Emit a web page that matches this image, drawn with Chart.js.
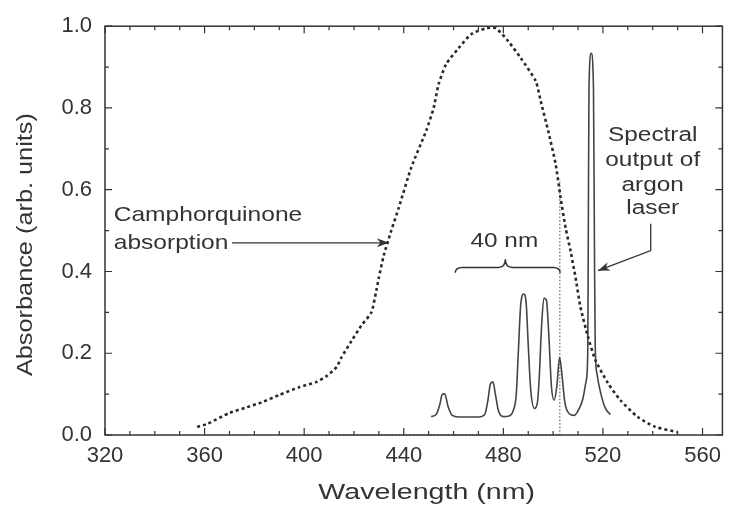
<!DOCTYPE html>
<html lang="en">
<head>
<meta charset="UTF-8">
<title>Camphorquinone absorption and argon laser output</title>
<script src="https://cdn.jsdelivr.net/npm/chart.js"></script>
<style>
  html, body { margin: 0; padding: 0; background: #fff; }
</style>
</head>
<body>
<canvas id="chart" width="729" height="507"></canvas>
<script>
// camphorquinone absorption curve (dotted)
const cqWavelength = [357, 361, 370, 377, 383, 390, 398, 405, 409, 413, 415, 419, 423, 427, 429, 430, 432, 435, 438, 443, 449, 452, 454, 457, 462, 467, 473, 477, 482, 487, 493, 495, 498, 501, 503, 505, 507, 509, 511, 514, 517, 522, 527, 534, 541, 550];
const cqAbsorbance = [0.02, 0.027, 0.054, 0.068, 0.08, 0.098, 0.117, 0.13, 0.144, 0.166, 0.19, 0.23, 0.268, 0.30, 0.354, 0.385, 0.44, 0.50, 0.556, 0.654, 0.744, 0.80, 0.858, 0.907, 0.946, 0.98, 0.995, 0.995, 0.963, 0.922, 0.866, 0.817, 0.744, 0.663, 0.58, 0.507, 0.45, 0.385, 0.312, 0.24, 0.183, 0.127, 0.085, 0.044, 0.02, 0.007];

// argon laser spectral output (solid)
const laserWavelength = [451, 453, 454.5, 455.5, 456.5, 457.8, 459.5, 462, 470, 472.5, 473.8, 474.8, 475.8, 476.8, 478, 480, 482, 484, 485.2, 486, 487, 488.2, 489.2, 490, 491, 492.5, 493.7, 494.5, 495.3, 496.3, 497.3, 498.3, 499.3, 500.4, 501.5, 502.6, 503.5, 504.7, 506.5, 508.5, 510.5, 512, 513.2, 513.9, 514.1, 514.4, 515.3, 516.2, 516.6, 516.9, 517.6, 519.2, 521, 523];
const laserOutput = [0.045, 0.05, 0.075, 0.1, 0.1, 0.07, 0.048, 0.044, 0.044, 0.05, 0.085, 0.125, 0.13, 0.1, 0.06, 0.045, 0.046, 0.06, 0.1, 0.2, 0.32, 0.345, 0.32, 0.22, 0.11, 0.065, 0.08, 0.15, 0.26, 0.335, 0.33, 0.24, 0.12, 0.085, 0.12, 0.19, 0.15, 0.08, 0.052, 0.048, 0.065, 0.09, 0.13, 0.2, 0.45, 0.85, 0.934, 0.85, 0.45, 0.22, 0.15, 0.1, 0.065, 0.05];

// dotted marker of the 40 nm band edge
const bandWavelength = [400, 502.7, 502.7];
const bandValue = [0, 0, 0.625];

const xTicks = [320, 360, 400, 440, 480, 520, 560];
const yTicks = [0, 0.2, 0.4, 0.6, 0.8, 1.0];
const xMin = 320, xMax = 568, xMinor = 10;

const ink = '#333';
const FONT = '"Liberation Sans", Arial, sans-serif';

function pts(xs, ys) { return xs.map((v, i) => ({ x: v, y: ys[i] })); }

function stretchText(ctx, str, px, py, sx, align) {
    ctx.save();
    ctx.translate(px, py);
    ctx.scale(sx, 1);
    ctx.textAlign = align;
    ctx.textBaseline = 'middle';
    ctx.fillText(str, 0, 0);
    ctx.restore();
}

function arrow(ctx, p) {
    ctx.beginPath();
    ctx.moveTo(p[0][0], p[0][1]);
    for (let i = 1; i < p.length; i++) ctx.lineTo(p[i][0], p[i][1]);
    ctx.stroke();
    const [x1, y1] = p[p.length - 1], [x0, y0] = p[p.length - 2];
    const a = Math.atan2(y1 - y0, x1 - x0), c = Math.cos(a), s = Math.sin(a);
    const L = 12, W = 4.5;
    ctx.beginPath();
    ctx.moveTo(x1, y1);
    ctx.lineTo(x1 - L * c + W * s, y1 - L * s - W * c);
    ctx.lineTo(x1 - 0.7 * L * c, y1 - 0.7 * L * s);
    ctx.lineTo(x1 - L * c - W * s, y1 - L * s + W * c);
    ctx.closePath();
    ctx.fill();
}

const decor = {
    id: 'decor',
    afterDatasetsDraw(chart) {
        const { ctx, chartArea: a, scales: { x, y } } = chart;
        const X = v => x.getPixelForValue(v), Y = v => y.getPixelForValue(v);
        ctx.save();
        ctx.strokeStyle = ink;
        ctx.fillStyle = ink;

        // frame
        ctx.lineWidth = 1.5;
        ctx.strokeRect(a.left, a.top, a.right - a.left, a.bottom - a.top);

        // inward ticks
        ctx.lineWidth = 1.2;
        ctx.beginPath();
        for (let v = xMin; v <= xMax; v += xMinor) {
            const px = X(v), len = xTicks.includes(v) ? 7 : 4;
            ctx.moveTo(px, a.bottom); ctx.lineTo(px, a.bottom - len);
            ctx.moveTo(px, a.top); ctx.lineTo(px, a.top + len);
        }
        for (let i = 0; i <= 10; i++) {
            const py = Y(i / 10), len = i % 2 === 0 ? 7 : 4;
            ctx.moveTo(a.left, py); ctx.lineTo(a.left + len, py);
            ctx.moveTo(a.right, py); ctx.lineTo(a.right - len, py);
        }
        ctx.stroke();

        // annotations
        ctx.font = '21px ' + FONT;
        stretchText(ctx, 'Camphorquinone', X(323.5), Y(0.537), 1.17, 'left');
        stretchText(ctx, 'absorption', X(323.5), Y(0.47), 1.17, 'left');
        ctx.lineWidth = 1.3;
        arrow(ctx, [[X(371), Y(0.47)], [X(434), Y(0.47)]]);

        stretchText(ctx, '40 nm', X(480.4), Y(0.473), 1.16, 'center');
        const xl = X(460.7), xr = X(502.8), xm = X(480.8);
        const yEnd = Y(0.397), yLine = Y(0.41), yTip = Y(0.43);
        ctx.lineWidth = 1.5;
        ctx.beginPath();
        ctx.moveTo(xl, yEnd);
        ctx.quadraticCurveTo(xl, yLine, xl + 7, yLine);
        ctx.lineTo(xm - 7, yLine);
        ctx.quadraticCurveTo(xm, yLine, xm, yTip);
        ctx.quadraticCurveTo(xm, yLine, xm + 7, yLine);
        ctx.lineTo(xr - 7, yLine);
        ctx.quadraticCurveTo(xr, yLine, xr, yEnd);
        ctx.stroke();

        ctx.font = '20px ' + FONT;
        const lab = ['Spectral', 'output of', 'argon', 'laser'];
        const labY = [0.732, 0.671, 0.610, 0.554];
        lab.forEach((t, i) => stretchText(ctx, t, X(540), Y(labY[i]), 1.22, 'center'));
        ctx.lineWidth = 1.3;
        arrow(ctx, [[X(539.2), Y(0.517)], [X(539.2), Y(0.451)], [X(518), Y(0.402)]]);

        // axis titles
        ctx.font = '22px ' + FONT;
        stretchText(ctx, 'Wavelength (nm)', (a.left + a.right) / 2 + 13, a.bottom + 58, 1.3, 'center');
        ctx.save();
        ctx.translate(26, (a.top + a.bottom) / 2 + 14);
        ctx.rotate(-Math.PI / 2);
        stretchText(ctx, 'Absorbance (arb. units)', 0, 0, 1.15, 'center');
        ctx.restore();

        ctx.restore();
    }
};

new Chart(document.getElementById('chart'), {
    type: 'scatter',
    data: {
        datasets: [
            {
                data: pts(cqWavelength, cqAbsorbance),
                showLine: true, borderColor: '#2a2a2a', borderWidth: 2.6,
                borderDash: [3, 3], pointRadius: 0, tension: 0.2
            },
            {
                data: pts(laserWavelength, laserOutput),
                showLine: true, borderColor: '#444', borderWidth: 1.6,
                pointRadius: 0, cubicInterpolationMode: 'monotone'
            },
            {
                data: pts(bandWavelength, bandValue),
                showLine: true, borderColor: '#444', borderWidth: 1,
                borderDash: [1.5, 2], pointRadius: 0, clip: false
            }
        ]
    },
    options: {
        responsive: false,
        animation: false,
        layout: { padding: { top: 25, right: 4, left: 0, bottom: 0 } },
        plugins: { legend: { display: false }, tooltip: { enabled: false } },
        scales: {
            x: {
                type: 'linear', min: xMin, max: xMax,
                afterBuildTicks: s => { s.ticks = xTicks.map(v => ({ value: v })); },
                afterFit: s => { s.height = 72; },
                grid: { display: false, drawTicks: false },
                border: { display: false },
                ticks: { color: ink, font: { family: FONT, size: 22 }, padding: 8, maxRotation: 0, autoSkip: false }
            },
            y: {
                min: 0, max: 1,
                afterBuildTicks: s => { s.ticks = yTicks.map(v => ({ value: v })); },
                afterFit: s => { s.width = 105; },
                grid: { display: false, drawTicks: false },
                border: { display: false },
                ticks: { color: ink, font: { family: FONT, size: 22 }, padding: 13, callback: v => v.toFixed(1) }
            }
        }
    },
    plugins: [decor]
});
</script>
</body>
</html>
